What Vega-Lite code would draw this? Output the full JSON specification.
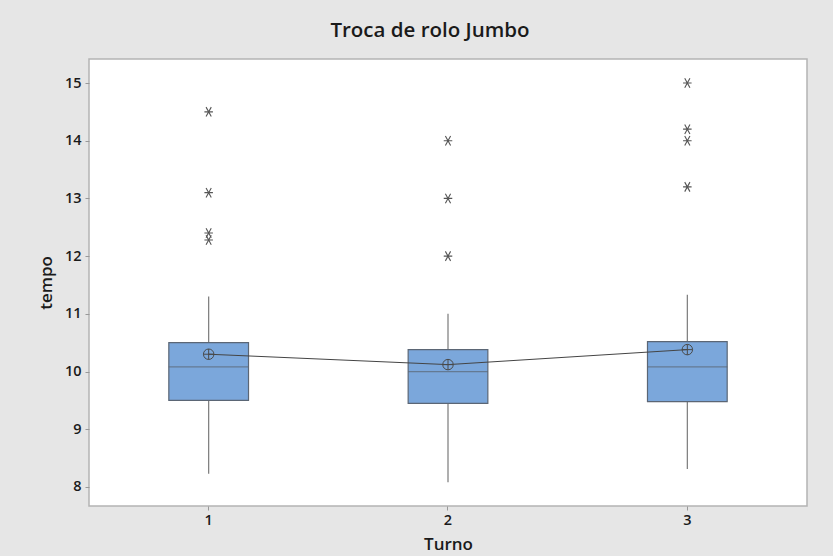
{
  "$schema": "https://vega.github.io/schema/vega-lite/v6.json",
  "autosize": {"type": "none"},
  "padding": {"left": 89, "top": 59, "right": 26, "bottom": 50},
  "width": 718,
  "height": 447,
  "background": "#e6e6e6",
  "title": {
    "text": "Troca de rolo Jumbo",
    "font": "Open Sans",
    "fontSize": 20.5,
    "fontWeight": 600,
    "color": "#1a1a1a",
    "anchor": "middle",
    "dx": -18,
    "offset": 18
  },
  "config": {
    "view": {"fill": "white", "stroke": "#b4b4b4", "strokeWidth": 1.5},
    "axis": {
      "labelFont": "Open Sans",
      "labelFontWeight": 600,
      "labelFontSize": 14.5,
      "labelColor": "#1a1a1a",
      "titleFont": "Open Sans",
      "titleFontWeight": 600,
      "titleFontSize": 17,
      "titleColor": "#1a1a1a",
      "domain": false,
      "grid": false,
      "tickColor": "#999999",
      "tickSize": 4
    }
  },
  "datasets": {
    "boxes": [
      {"Turno": "1", "q1": 9.5, "q3": 10.5, "median": 10.08, "low": 8.23, "high": 11.3, "mean": 10.3},
      {"Turno": "2", "q1": 9.45, "q3": 10.38, "median": 10.0, "low": 8.08, "high": 11.0, "mean": 10.12},
      {"Turno": "3", "q1": 9.48, "q3": 10.52, "median": 10.08, "low": 8.31, "high": 11.33, "mean": 10.38}
    ],
    "outliers": [
      {"Turno": "1", "tempo": 14.5},
      {"Turno": "1", "tempo": 13.1},
      {"Turno": "1", "tempo": 12.4},
      {"Turno": "1", "tempo": 12.28},
      {"Turno": "2", "tempo": 14.0},
      {"Turno": "2", "tempo": 13.0},
      {"Turno": "2", "tempo": 12.0},
      {"Turno": "3", "tempo": 15.0},
      {"Turno": "3", "tempo": 14.2},
      {"Turno": "3", "tempo": 14.0},
      {"Turno": "3", "tempo": 13.2}
    ]
  },
  "encoding": {
    "x": {
      "field": "Turno",
      "type": "ordinal",
      "title": "Turno",
      "scale": {"type": "band", "paddingInner": 0.667, "paddingOuter": 0.3335},
      "axis": {"labelAngle": 0, "labelPadding": 3, "titlePadding": 10}
    }
  },
  "layer": [
    {
      "data": {"name": "boxes"},
      "mark": {"type": "rule", "color": "#7a7a7a", "strokeWidth": 1.2},
      "encoding": {
        "y": {
          "field": "low",
          "type": "quantitative",
          "title": "tempo",
          "scale": {"domain": [7.67, 15.416], "nice": false, "zero": false},
          "axis": {"values": [8, 9, 10, 11, 12, 13, 14, 15], "format": "d", "labelPadding": 4, "titlePadding": 9}
        },
        "y2": {"field": "high"}
      }
    },
    {
      "data": {"name": "boxes"},
      "mark": {"type": "bar", "fill": "#7ba7db", "stroke": "#5b6675", "strokeWidth": 1.2},
      "encoding": {
        "y": {"field": "q1", "type": "quantitative"},
        "y2": {"field": "q3"}
      }
    },
    {
      "data": {"name": "boxes"},
      "mark": {"type": "tick", "color": "#5b6675", "size": 80, "thickness": 1.2},
      "encoding": {
        "y": {"field": "median", "type": "quantitative"}
      }
    },
    {
      "data": {"name": "boxes"},
      "mark": {"type": "line", "color": "#444444", "strokeWidth": 1},
      "encoding": {
        "y": {"field": "mean", "type": "quantitative"}
      }
    },
    {
      "data": {"name": "boxes"},
      "mark": {
        "type": "point",
        "shape": "M-1,0A1,1 0 1,1 1,0A1,1 0 1,1 -1,0ZM-1,0L1,0M0,-1L0,1",
        "filled": false,
        "size": 110,
        "stroke": "#4a4a4a",
        "strokeWidth": 1,
        "opacity": 1
      },
      "encoding": {
        "y": {"field": "mean", "type": "quantitative"}
      }
    },
    {
      "data": {"name": "outliers"},
      "mark": {
        "type": "point",
        "shape": "M-0.9,0L0.9,0M-0.55,-1L0.55,1M-0.55,1L0.55,-1",
        "filled": false,
        "size": 90,
        "stroke": "#555555",
        "strokeWidth": 1.1,
        "opacity": 1
      },
      "encoding": {
        "y": {"field": "tempo", "type": "quantitative"}
      }
    }
  ]
}
